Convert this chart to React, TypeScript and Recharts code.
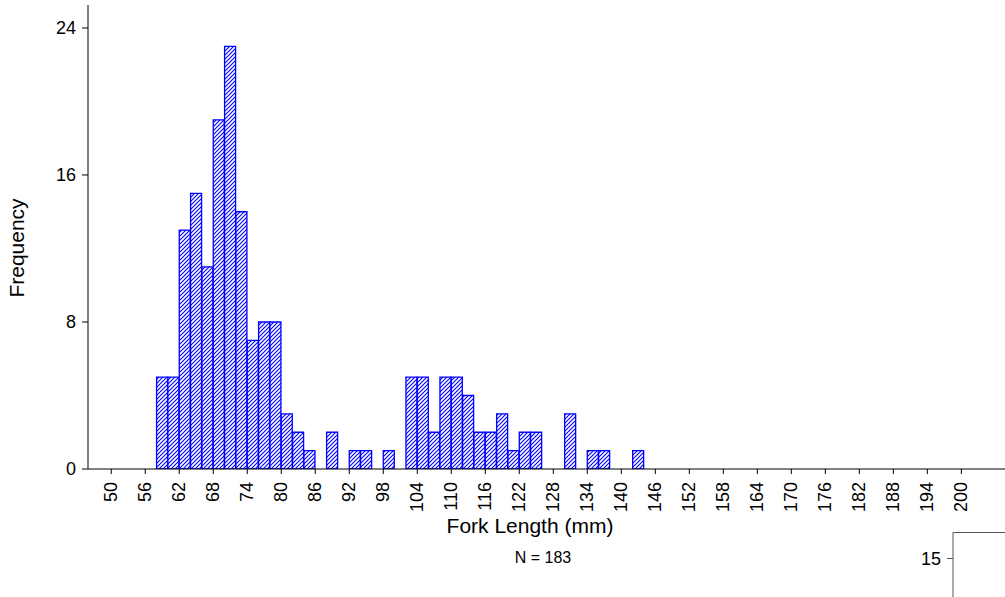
import React from 'react';
import { BarChart, Bar, XAxis, YAxis } from 'recharts';

// 2 mm fork-length bins (lower edge) and the number of fish in each
const binStarts = [
  58, 60, 62, 64, 66, 68, 70, 72, 74, 76, 78, 80, 82, 84, 86, 88, 90, 92, 94, 96, 98, 100,
  102, 104, 106, 108, 110, 112, 114, 116, 118, 120, 122, 124, 126, 128, 130, 132, 134, 136,
  138, 140, 142,
];
const counts = [
  5, 5, 13, 15, 11, 19, 23, 14, 7, 8, 8, 3, 2, 1, 0, 2, 0, 1, 1, 0, 1, 0,
  5, 5, 2, 5, 5, 4, 2, 2, 3, 1, 2, 2, 0, 0, 3, 0, 1, 1,
  0, 0, 1,
];
const xTicks = [
  50, 56, 62, 68, 74, 80, 86, 92, 98, 104, 110, 116, 122, 128, 134, 140, 146, 152, 158,
  164, 170, 176, 182, 188, 194, 200,
];
const yTicks = [0, 8, 16, 24];
const sampleSize = 183;

const data = binStarts.map((start, i) => ({ mid: start + 1, count: counts[i] }));

const FONT = '"Liberation Sans", Arial, sans-serif';
const BLUE = '#0000ff';

const XTick = (props: any) => {
  const { x, y, payload } = props;
  return (
    <text
      x={x}
      y={y}
      transform={`rotate(-90, ${x}, ${y})`}
      textAnchor="end"
      dominantBaseline="central"
      fontSize={18}
      fontFamily={FONT}
      fill="#000"
    >
      {payload.value}
    </text>
  );
};

const App: React.FC = () => (
  <div style={{ position: 'absolute', left: 0, top: 0, width: 1005, height: 597, fontFamily: FONT }}>
    <BarChart
      width={1005}
      height={597}
      data={data}
      margin={{ top: 5, right: 0, bottom: 0, left: 0 }}
      barCategoryGap={0}
      barGap={0}
    >
      <defs>
        <pattern id="hatch" patternUnits="userSpaceOnUse" width="4" height="4">
          <rect width="4" height="4" fill="#fff" />
          <path d="M-1,1 l2,-2 M0,4 l4,-4 M3,5 l2,-2" stroke={BLUE} strokeWidth={1.1} />
        </pattern>
      </defs>
      <XAxis
        dataKey="mid"
        type="number"
        domain={[45.9, 207.7]}
        ticks={xTicks}
        interval={0}
        allowDataOverflow
        height={128}
        tickSize={5}
        tickMargin={8}
        stroke="#000"
        tick={<XTick />}
      />
      <XAxis
        xAxisId="top"
        orientation="top"
        type="number"
        domain={[45.9, 207.7]}
        height={0}
        tick={false}
        tickLine={false}
        stroke="#000"
      />
      <YAxis
        type="number"
        domain={[0, 25.25]}
        ticks={yTicks}
        interval={0}
        allowDataOverflow
        width={88}
        tickSize={6}
        tickMargin={6}
        stroke="#000"
        tick={{ fill: '#000', fontSize: 18, fontFamily: FONT }}
      />
      <Bar
        dataKey="count"
        fill="url(#hatch)"
        stroke={BLUE}
        strokeWidth={1.3}
        isAnimationActive={false}
      />
    </BarChart>

    <div
      style={{
        position: 'absolute',
        left: 17,
        top: 248,
        transform: 'translate(-50%, -50%) rotate(-90deg)',
        fontSize: 21,
        whiteSpace: 'nowrap',
        color: '#000',
      }}
    >
      Frequency
    </div>
    <div
      style={{
        position: 'absolute',
        left: 530,
        top: 526,
        transform: 'translate(-50%, -50%)',
        fontSize: 21,
        whiteSpace: 'nowrap',
        color: '#000',
      }}
    >
      Fork Length (mm)
    </div>
    <div
      style={{
        position: 'absolute',
        left: 543,
        top: 558,
        transform: 'translate(-50%, -50%)',
        fontSize: 16,
        whiteSpace: 'nowrap',
        color: '#000',
      }}
    >
      N = {sampleSize}
    </div>

    {/* corner of the neighbouring panel */}
    <svg style={{ position: 'absolute', left: 0, top: 0 }} width={1005} height={597}>
      <path d="M953,597 L953,532.5 L1005,532.5" fill="none" stroke="#555" strokeWidth={1} />
      <line x1={947} y1={558.5} x2={953} y2={558.5} stroke="#555" strokeWidth={1} />
      <text x={941} y={558.5} textAnchor="end" dominantBaseline="central" fontSize={18} fontFamily={FONT} fill="#000">
        15
      </text>
    </svg>
  </div>
);

export default App;
